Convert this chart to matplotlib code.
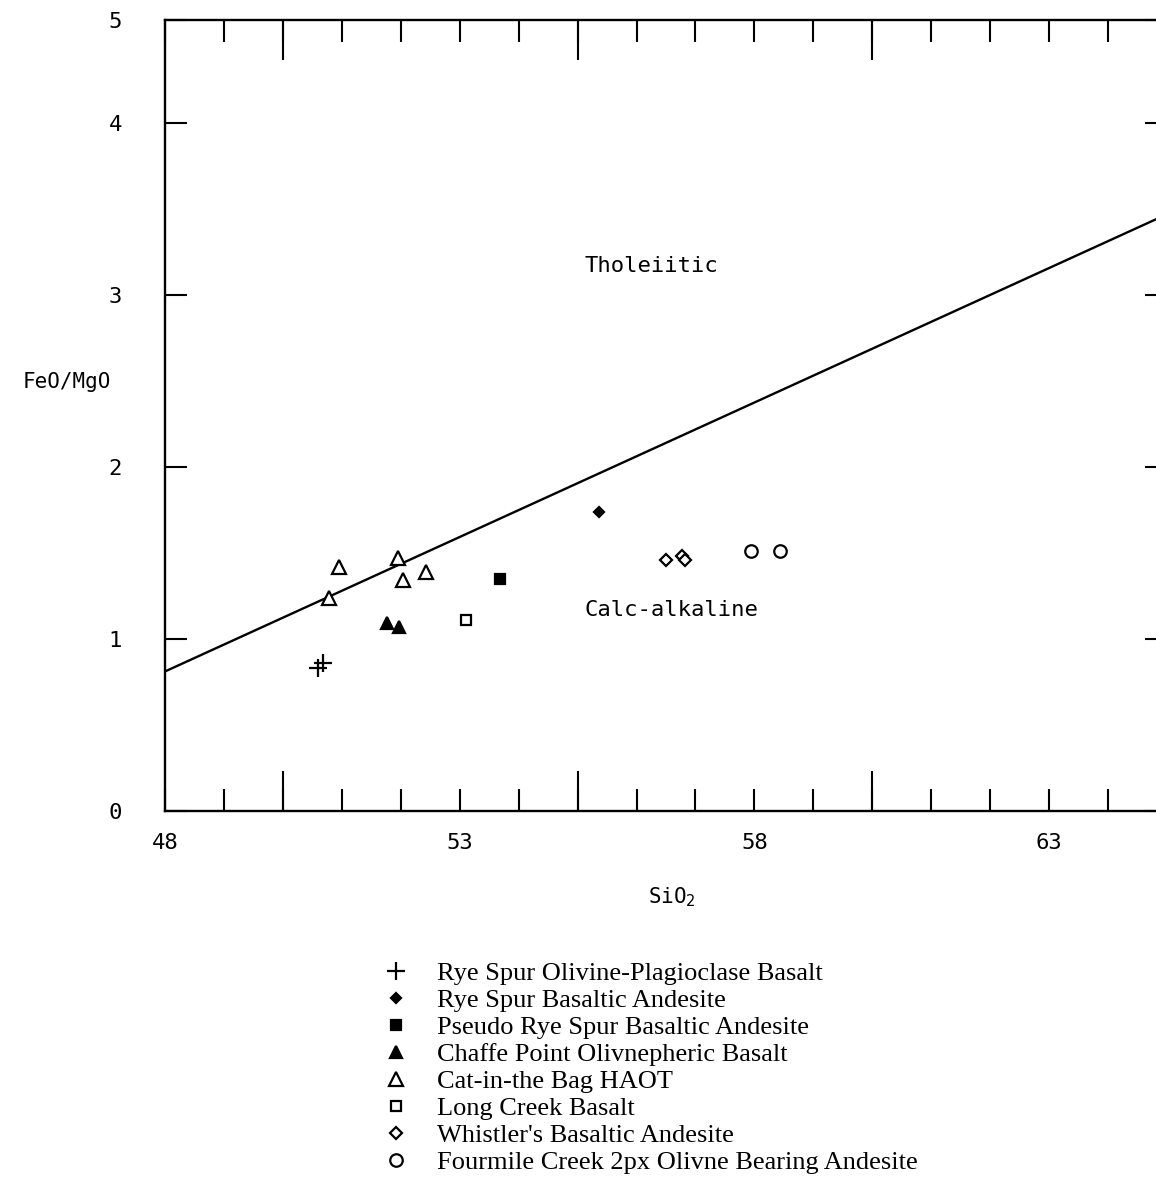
import matplotlib
matplotlib.use('Agg')
import matplotlib.pyplot as plt
from matplotlib.ticker import FixedLocator, FuncFormatter

# SiO2 (wt%) and FeO/MgO, one pair of lists per unit
rye_ol_x = [50.60, 50.68]
rye_ol_y = [0.83, 0.86]
rye_ba_x = [55.36]
rye_ba_y = [1.74]
pseudo_x = [53.69]
pseudo_y = [1.35]
chaffe_x = [51.77, 51.97]
chaffe_y = [1.09, 1.07]
cat_x = [50.78, 50.95, 51.95, 52.03, 52.42]
cat_y = [1.24, 1.42, 1.47, 1.34, 1.39]
long_x = [53.10]
long_y = [1.11]
whistler_x = [56.50, 56.77, 56.83]
whistler_y = [1.46, 1.48, 1.46]
fourmile_x = [57.95, 58.43]
fourmile_y = [1.51, 1.51]

# tholeiitic / calc-alkaline dividing line (end points)
line_x = [48.0, 65.0]
line_y = [0.81, 3.47]

labels = ['Rye Spur Olivine-Plagioclase Basalt',
          'Rye Spur Basaltic Andesite',
          'Pseudo Rye Spur Basaltic Andesite',
          'Chaffe Point Olivnepheric Basalt',
          'Cat-in-the Bag HAOT',
          'Long Creek Basalt',
          "Whistler's Basaltic Andesite",
          'Fourmile Creek 2px Olivne Bearing Andesite']

x_labelled = [48, 53, 58, 63]
y_ticks = [0, 1, 2, 3, 4, 4.6]
y_ticklabels = ['0', '1', '2', '3', '4', '5']

mono = 'DejaVu Sans Mono'
plt.rcParams['font.family'] = mono

fig = plt.figure(figsize=(11.56, 11.87), dpi=100)
W, H = 1156, 1187
ax = fig.add_axes([165 / W, (H - 810.7) / H, 1002 / W, 790.7 / H])

ax.plot(line_x, line_y, color='black', lw=1.7)

k = dict(linestyle='none', color='black', mew=1.6)
h1, = ax.plot(rye_ol_x, rye_ol_y, marker='+', ms=13, **k)
h2, = ax.plot(rye_ba_x, rye_ba_y, marker='D', ms=5.5, **k)
h3, = ax.plot(pseudo_x, pseudo_y, marker='s', ms=7, **k)
h4, = ax.plot(chaffe_x, chaffe_y, marker='^', ms=9, **k)
h5, = ax.plot(cat_x, cat_y, marker='^', ms=10, mfc='white', **k)
h6, = ax.plot(long_x, long_y, marker='s', ms=7, mfc='white', **k)
h7, = ax.plot(whistler_x, whistler_y, marker='D', ms=6.5, mfc='white', **k)
h8, = ax.plot(fourmile_x, fourmile_y, marker='o', ms=9, mfc='white', **k)

ax.text(56.26, 3.17, 'Tholeiitic', fontsize=16, ha='center', va='center')
ax.text(56.59, 1.17, 'Calc-alkaline', fontsize=16, ha='center', va='center')

ax.set_xlim(48, 65)
ax.set_ylim(0, 4.6)

# every whole unit gets a short tick, labels only at 48, 53, 58, 63
ax.xaxis.set_major_locator(FixedLocator(list(range(48, 66))))
ax.xaxis.set_major_formatter(FuncFormatter(lambda v, p: '%d' % v if int(round(v)) in x_labelled else ''))
ax.xaxis.set_minor_locator(FixedLocator([50, 55, 60]))
ax.xaxis.remove_overlapping_locs = False
ax.set_yticks(y_ticks)
ax.set_yticklabels(y_ticklabels)

ax.tick_params(axis='x', which='major', direction='in', length=16, width=1.5,
               top=True, bottom=True, pad=16, labelsize=16)
ax.tick_params(axis='x', which='minor', direction='in', length=29, width=1.5,
               top=True, bottom=True)
ax.tick_params(axis='y', which='major', direction='in', length=16, width=1.5,
               left=True, right=True, pad=31, labelsize=16)
for s in ax.spines.values():
    s.set_linewidth(1.7)

ax.set_ylabel('FeO/MgO', rotation=0, fontsize=15, ha='center', va='center')
ax.yaxis.set_label_coords(-0.098, 0.542)
ax.set_xlabel('SiO$_2$', fontsize=15, ha='center', va='center')
ax.xaxis.set_label_coords(0.506, -0.109)

fs = 19
fig.legend([h1, h2, h3, h4, h5, h6, h7, h8], labels,
           loc='upper left', bbox_to_anchor=(383 / W, 1 - 962 / H),
           frameon=False, prop={'family': 'Liberation Serif', 'size': fs},
           handlelength=0.95, handletextpad=1.1, labelspacing=0.13,
           borderpad=0, borderaxespad=0)

fig.savefig('out.png', dpi=100)
